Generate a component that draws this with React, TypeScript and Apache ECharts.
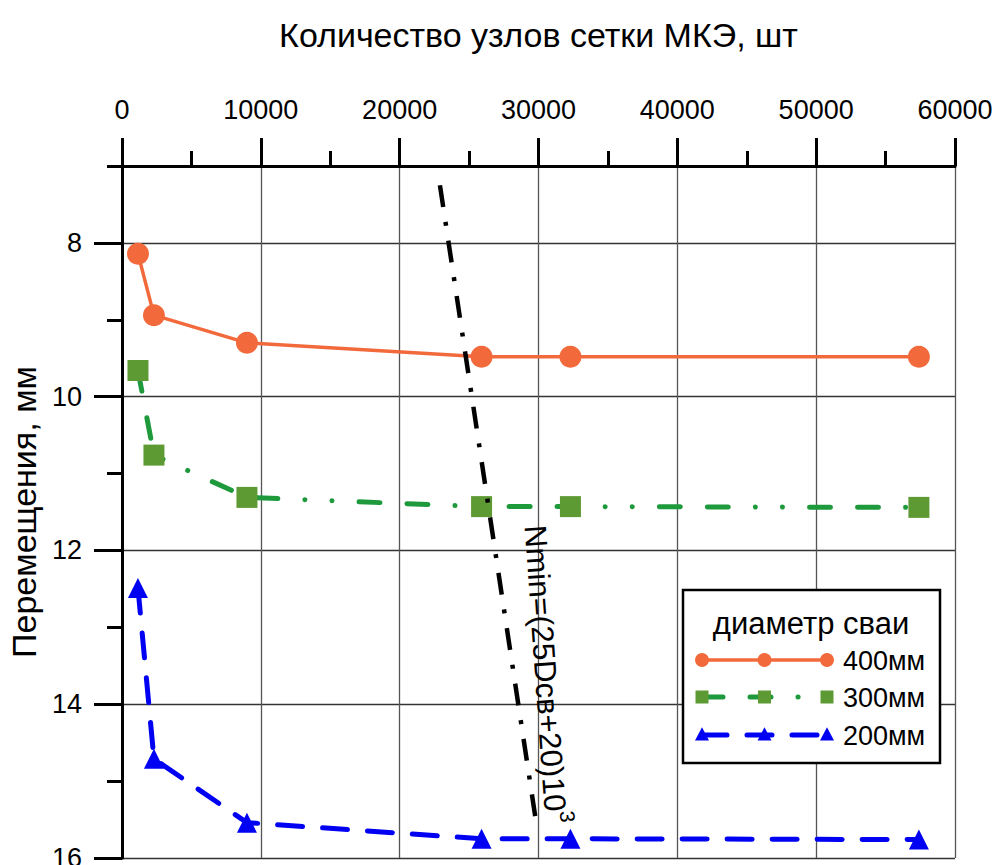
import React, { useEffect, useRef } from "react";
import * as echarts from "echarts";

// ---- data ----
const xTitle = "Количество узлов сетки МКЭ, шт";
const yTitle = "Перемещения, мм";
const legendTitle = "диаметр сваи";
const seriesNames = ["400мм", "300мм", "200мм"];
const nodes = [1150, 2300, 9000, 25900, 32300, 57400];
const disp400 = [8.14, 8.94, 9.3, 9.48, 9.48, 9.48];
const disp300 = [9.66, 10.76, 11.31, 11.43, 11.43, 11.44];
const disp200 = [12.49, 14.71, 15.54, 15.75, 15.75, 15.76];
const nminX = [22900, 29900];
const nminY = [7.25, 15.62];
const nminLabel = "Nmin=(25Dсв+20)10";
const nminSup = "3";
const yLabelValues = [8, 10, 12, 14, 16];

const FONT = "'Liberation Sans', Arial, sans-serif";
const ORANGE = "#F26A3C";
const GREEN_LINE = "#1E9A3C";
const GREEN_MARK = "#5E9A33";
const BLUE = "#0000F2";
const greenDash = [21, 27, 21, 27, 0.1, 27, 0.1, 27];
const blueDash = [25, 20];
const blackDash = [22, 15, 4, 15];

function buildOption(): any {
  const pairs = (ys: number[]) => nodes.map((x, i) => [x, ys[i]]);
  const lx0 = 702, lx1 = 827, lxm = 764.5;
  const rows = [660, 697, 735];
  const tri = (cx: number, cy: number, s: number) => ({
    type: "polygon",
    shape: { points: [[cx, cy - s * 0.55], [cx - s / 2, cy + s * 0.4], [cx + s / 2, cy + s * 0.4]] },
    style: { fill: BLUE },
    z: 102,
  });
  const legend: any[] = [
    {
      type: "rect",
      shape: { x: 683, y: 590, width: 257, height: 173 },
      style: { fill: "#fff", stroke: "#000", lineWidth: 2.5 },
      z: 100,
    },
    {
      type: "text",
      x: 811,
      y: 623,
      style: { text: legendTitle, fontSize: 31, fontFamily: FONT, fill: "#000", align: "center", verticalAlign: "middle" },
      z: 101,
    },
    // 400
    { type: "line", shape: { x1: lx0, y1: rows[0], x2: lx1, y2: rows[0] }, style: { stroke: ORANGE, lineWidth: 3.5 }, z: 101 },
    ...[lx0, lxm, lx1].map((x) => ({ type: "circle", shape: { cx: x, cy: rows[0], r: 7 }, style: { fill: ORANGE }, z: 102 })),
    // 300
    {
      type: "line",
      shape: { x1: lx0, y1: rows[1], x2: lx1, y2: rows[1] },
      style: { stroke: GREEN_LINE, lineWidth: 5, lineDash: greenDash, lineCap: "round" },
      z: 101,
    },
    ...[lx0, lxm, lx1].map((x) => ({ type: "rect", shape: { x: x - 6.5, y: rows[1] - 6.5, width: 13, height: 13 }, style: { fill: GREEN_MARK }, z: 102 })),
    // 200
    {
      type: "line",
      shape: { x1: lx0, y1: rows[2], x2: lx1, y2: rows[2] },
      style: { stroke: BLUE, lineWidth: 5, lineDash: blueDash, lineCap: "round" },
      z: 101,
    },
    ...[lx0, lxm, lx1].map((x) => tri(x, rows[2], 14)),
    ...seriesNames.map((n, i) => ({
      type: "text",
      x: 843,
      y: rows[i] + 1,
      style: { text: n, fontSize: 27, fontFamily: FONT, fill: "#000", align: "left", verticalAlign: "middle" },
      z: 101,
    })),
  ];

  const annotation = {
    type: "text",
    x: 549,
    y: 674,
    rotation: (-86 * Math.PI) / 180,
    style: {
      text: `{m|${nminLabel}}{s|${nminSup}}`,
      rich: {
        m: { fontSize: 31, fontFamily: FONT, fill: "#000", lineHeight: 38, verticalAlign: "bottom" },
        s: { fontSize: 21, fontFamily: FONT, fill: "#000", verticalAlign: "top" },
      },
      align: "center",
      verticalAlign: "middle",
    },
    z: 90,
  };

  return {
    animation: false,
    backgroundColor: "#fff",
    textStyle: { fontFamily: FONT },
    grid: { left: 122, top: 166, right: 37, bottom: 7, outerBoundsMode: "none" },
    xAxis: {
      type: "value",
      position: "top",
      min: 0,
      max: 60000,
      interval: 10000,
      name: xTitle,
      nameLocation: "middle",
      nameGap: 114,
      nameTextStyle: { fontSize: 34, color: "#000", fontFamily: FONT },
      axisLine: { show: true, lineStyle: { color: "#000", width: 3 } },
      axisTick: { show: true, length: 28, lineStyle: { color: "#000", width: 3 } },
      minorTick: { show: true, splitNumber: 2, length: 15, lineStyle: { color: "#000", width: 3 } },
      axisLabel: { fontSize: 27, color: "#000", margin: 43, fontFamily: FONT, formatter: (v: number) => String(v) },
      splitLine: { show: true, lineStyle: { color: "#555", width: 1.3 } },
    },
    yAxis: [
      {
        type: "value",
        position: "left",
        inverse: true,
        min: 7,
        max: 16,
        interval: 1,
        axisLine: { show: true, lineStyle: { color: "#000", width: 3 } },
        axisTick: { show: true, length: 15, lineStyle: { color: "#000", width: 3 } },
        axisLabel: { show: false },
        splitLine: { show: false },
      },
      {
        type: "value",
        position: "left",
        inverse: true,
        min: 7,
        max: 16,
        name: yTitle,
        nameLocation: "middle",
        nameGap: 74,
        nameTextStyle: { fontSize: 34, color: "#000", fontFamily: FONT },
        axisLine: { show: false },
        axisTick: { show: true, length: 28, customValues: yLabelValues, lineStyle: { color: "#000", width: 3 } },
        axisLabel: { show: true, customValues: yLabelValues, fontSize: 27, color: "#000", margin: 40, fontFamily: FONT, formatter: (v: number) => String(v) },
        splitLine: { show: true, lineStyle: { color: "#333", width: 1.3 } },
      },
    ],
    series: [
      {
        name: seriesNames[0],
        type: "line",
        yAxisIndex: 1,
        data: pairs(disp400),
        symbol: "circle",
        symbolSize: 22,
        lineStyle: { color: ORANGE, width: 3.5 },
        itemStyle: { color: ORANGE },
        z: 5,
      },
      {
        name: seriesNames[1],
        type: "line",
        yAxisIndex: 1,
        data: pairs(disp300),
        symbol: "rect",
        symbolSize: 21,
        lineStyle: { color: GREEN_LINE, width: 5, type: greenDash, cap: "round" },
        itemStyle: { color: GREEN_MARK },
        z: 4,
      },
      {
        name: seriesNames[2],
        type: "line",
        yAxisIndex: 1,
        data: pairs(disp200),
        symbol: "triangle",
        symbolSize: 20,
        lineStyle: { color: BLUE, width: 5, type: blueDash, cap: "round" },
        itemStyle: { color: BLUE },
        z: 4,
      },
      {
        name: "Nmin",
        type: "line",
        yAxisIndex: 1,
        data: nminX.map((x, i) => [x, nminY[i]]),
        symbol: "none",
        lineStyle: { color: "#000", width: 4.5, type: blackDash },
        z: 8,
      },
    ],
    graphic: [annotation, ...legend],
  };
}

export default function App() {
  const ref = useRef<HTMLDivElement>(null);
  useEffect(() => {
    const chart = echarts.init(ref.current!, null, { renderer: "svg" });
    chart.setOption(buildOption());
    return () => chart.dispose();
  }, []);
  return (
    <div
      ref={ref}
      style={{ position: "absolute", left: 0, top: 0, width: 992, height: 865, background: "#fff" }}
    />
  );
}
